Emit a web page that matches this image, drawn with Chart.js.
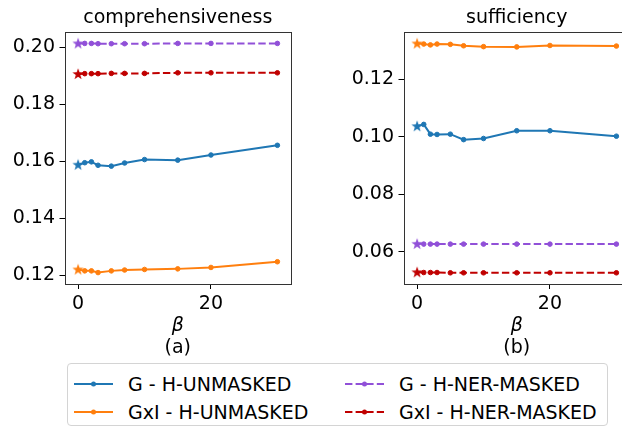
<!DOCTYPE html>
<html>
<head>
<meta charset="utf-8">
<script src="https://cdn.jsdelivr.net/npm/chart.js@4.4.1/dist/chart.umd.min.js"></script>
<style>
  html, body { margin: 0; padding: 0; background: #fff; }
  #fig { position: relative; width: 622px; height: 428px; overflow: hidden; font-family: 'DejaVu Sans', sans-serif; }
  .panel { position: absolute; top: 0; width: 310px; height: 360px; }
  #legend { position: absolute; left: 67px; top: 363px; width: 541px; height: 63px; border: 1px solid #d4d4d4;
            border-radius: 4px; box-sizing: border-box; background: #fff; }
  .item { position: absolute; height: 24px; display: flex; align-items: center; font-size: 19px; color: #000; white-space: nowrap; }
  .item svg { flex: none; margin-right: 15px; }
</style>
</head>
<body>
<div id="fig">
  <canvas id="compCanvas" class="panel" width="310" height="360" style="left:0px"></canvas>
  <canvas id="suffCanvas" class="panel" width="310" height="360" style="left:339px"></canvas>
  <div id="legend"></div>
</div>
<script>
// beta values on the x axis
const betaValues = [0, 1, 2, 3, 5, 7, 10, 15, 20, 30];
const xTickValues = [0, 20];

// comprehensiveness panel
const compGUnmasked   = [0.1588, 0.1595, 0.1598, 0.1586, 0.1583, 0.1594, 0.1606, 0.1604, 0.1622, 0.1656];
const compGxIUnmasked = [0.1221, 0.1216, 0.1216, 0.1210, 0.1216, 0.1219, 0.1221, 0.1223, 0.1228, 0.1248];
const compGNerMasked  = [0.2013, 0.2013, 0.2013, 0.2012, 0.2012, 0.2012, 0.2012, 0.2013, 0.2013, 0.2013];
const compGxINerMasked = [0.1906, 0.1907, 0.1907, 0.1907, 0.1908, 0.1908, 0.1908, 0.1910, 0.1910, 0.1910];
const compYTicks = [0.12, 0.14, 0.16, 0.18, 0.20];

// sufficiency panel
const suffGUnmasked   = [0.1037, 0.1043, 0.1009, 0.1008, 0.1009, 0.0990, 0.0994, 0.1021, 0.1021, 0.1002];
const suffGxIUnmasked = [0.1325, 0.1323, 0.1320, 0.1323, 0.1322, 0.1317, 0.1314, 0.1313, 0.1318, 0.1316];
const suffGNerMasked  = [0.0627, 0.0626, 0.0626, 0.0626, 0.0626, 0.0626, 0.0626, 0.0626, 0.0626, 0.0626];
const suffGxINerMasked = [0.0528, 0.0527, 0.0527, 0.0527, 0.0526, 0.0526, 0.0526, 0.0526, 0.0526, 0.0526];
const suffYTicks = [0.06, 0.08, 0.10, 0.12];

const seriesLabels = ['G - H-UNMASKED', 'GxI - H-UNMASKED', 'G - H-NER-MASKED', 'GxI - H-NER-MASKED'];
const seriesColors = ['#1f77b4', '#ff7f0e', '#9150d8', '#c00000'];
const seriesDashed = [false, false, true, true];

const FONT = "'DejaVu Sans', sans-serif";
const FS = 19;
const DASH = [7.4, 3.2];

// filled five-point star used for the beta = 0 point
function makeStar(color) {
  const c = document.createElement('canvas');
  c.width = 14; c.height = 14;
  const g = c.getContext('2d');
  const R = 6, r = 2.4;
  g.beginPath();
  for (let i = 0; i < 10; i++) {
    const rad = i % 2 === 0 ? R : r;
    const a = -Math.PI / 2 + i * Math.PI / 5;
    const px = 7 + rad * Math.cos(a), py = 7.3 + rad * Math.sin(a);
    if (i === 0) g.moveTo(px, py); else g.lineTo(px, py);
  }
  g.closePath();
  g.fillStyle = color;
  g.fill();
  return c;
}
const stars = seriesColors.map(makeStar);

// axes frame around the plotting area
const framePlugin = {
  id: 'frame',
  afterDatasetsDraw(chart) {
    const a = chart.chartArea, ctx = chart.ctx;
    ctx.save();
    ctx.strokeStyle = '#333';
    ctx.lineWidth = 1;
    const l = Math.round(a.left) + 0.5, t = Math.round(a.top) + 0.5;
    const r = Math.round(a.right) + 0.5, b = Math.round(a.bottom) + 0.5;
    ctx.strokeRect(l, t, r - l, b - t);
    ctx.restore();
  }
};

function makeDatasets(valueLists) {
  return valueLists.map((vals, k) => ({
    label: seriesLabels[k],
    data: betaValues.map((b, i) => ({ x: b, y: vals[i] })),
    borderColor: seriesColors[k],
    backgroundColor: seriesColors[k],
    borderWidth: 2,
    borderDash: seriesDashed[k] ? DASH : [],
    pointStyle: ctx => ctx.dataIndex === 0 ? stars[k] : 'circle',
    pointRadius: 2.3,
    pointBorderWidth: 1,
    pointBorderColor: seriesColors[k],
    pointBackgroundColor: seriesColors[k],
    tension: 0,
    order: 4 - k
  }));
}

function makePanel(canvasId, title, subLabel, valueLists, yMin, yMax, yTicks) {
  new Chart(document.getElementById(canvasId), {
    type: 'line',
    data: { datasets: makeDatasets(valueLists) },
    options: {
      responsive: false,
      animation: false,
      events: [],
      layout: { padding: { left: 0, right: 19, top: 0, bottom: 0.6 } },
      plugins: {
        legend: { display: false },
        tooltip: { enabled: false },
        title: {
          display: true, text: title, color: '#000', fullSize: false,
          font: { family: FONT, size: FS, weight: 'normal' },
          padding: { top: 7, bottom: 2.2 }
        }
      },
      scales: {
        x: {
          type: 'linear', position: 'bottom', min: -2.05, max: 32.05, weight: 0,
          afterBuildTicks: s => { s.ticks = xTickValues.map(v => ({ value: v })); },
          afterFit: s => { s.height = 53.1; },
          ticks: { color: '#000', font: { family: FONT, size: FS }, padding: 4, maxRotation: 0, autoSkip: false,
                   callback: v => String(v) },
          grid: { drawOnChartArea: false, drawTicks: true, tickLength: 5, color: '#000', lineWidth: 1 },
          border: { display: false },
          title: { display: true, text: 'β', color: '#000', padding: { top: 0, bottom: 0 },
                   font: { family: FONT, size: FS, style: 'italic' } }
        },
        x2: {
          type: 'linear', position: 'bottom', min: -2.05, max: 32.05, weight: 1,
          afterFit: s => { s.height = 22.3; },
          ticks: { display: false },
          grid: { display: false, drawTicks: false },
          border: { display: false },
          title: { display: true, text: subLabel, color: '#000', padding: { top: 0, bottom: 0 },
                   font: { family: FONT, size: FS } }
        },
        y: {
          type: 'linear', position: 'left', min: yMin, max: yMax,
          afterBuildTicks: s => { s.ticks = yTicks.map(v => ({ value: v })); },
          afterFit: s => { s.width = 64.5; },
          ticks: { color: '#000', font: { family: FONT, size: FS }, padding: 4.5,
                   callback: v => Number(v).toFixed(2) },
          grid: { drawOnChartArea: false, drawTicks: true, tickLength: 5, color: '#000', lineWidth: 1 },
          border: { display: false }
        }
      }
    },
    plugins: [framePlugin]
  });
}

makePanel('compCanvas', 'comprehensiveness', '(a)',
  [compGUnmasked, compGxIUnmasked, compGNerMasked, compGxINerMasked], 0.1170, 0.2053, compYTicks);
makePanel('suffCanvas', 'sufficiency', '(b)',
  [suffGUnmasked, suffGxIUnmasked, suffGNerMasked, suffGxINerMasked], 0.0487, 0.1365, suffYTicks);

// two-column legend: unmasked series on the left, NER-masked on the right
const legend = document.getElementById('legend');
const slots = [[6, 8], [6, 36], [277, 8], [277, 36]];
seriesLabels.forEach((label, k) => {
  const item = document.createElement('div');
  item.className = 'item';
  item.style.left = slots[k][0] + 'px';
  item.style.top = slots[k][1] + 'px';
  const dash = seriesDashed[k] ? ' stroke-dasharray="7.4 3.2"' : '';
  item.innerHTML =
    '<svg width="39" height="24" viewBox="0 0 39 24">' +
    '<line x1="0" y1="12" x2="39" y2="12" stroke="' + seriesColors[k] + '" stroke-width="2"' + dash + '/>' +
    '<circle cx="19.5" cy="12" r="2.5" fill="' + seriesColors[k] + '"/></svg>';
  const span = document.createElement('span');
  span.textContent = label;
  item.appendChild(span);
  legend.appendChild(item);
});
</script>
</body>
</html>
